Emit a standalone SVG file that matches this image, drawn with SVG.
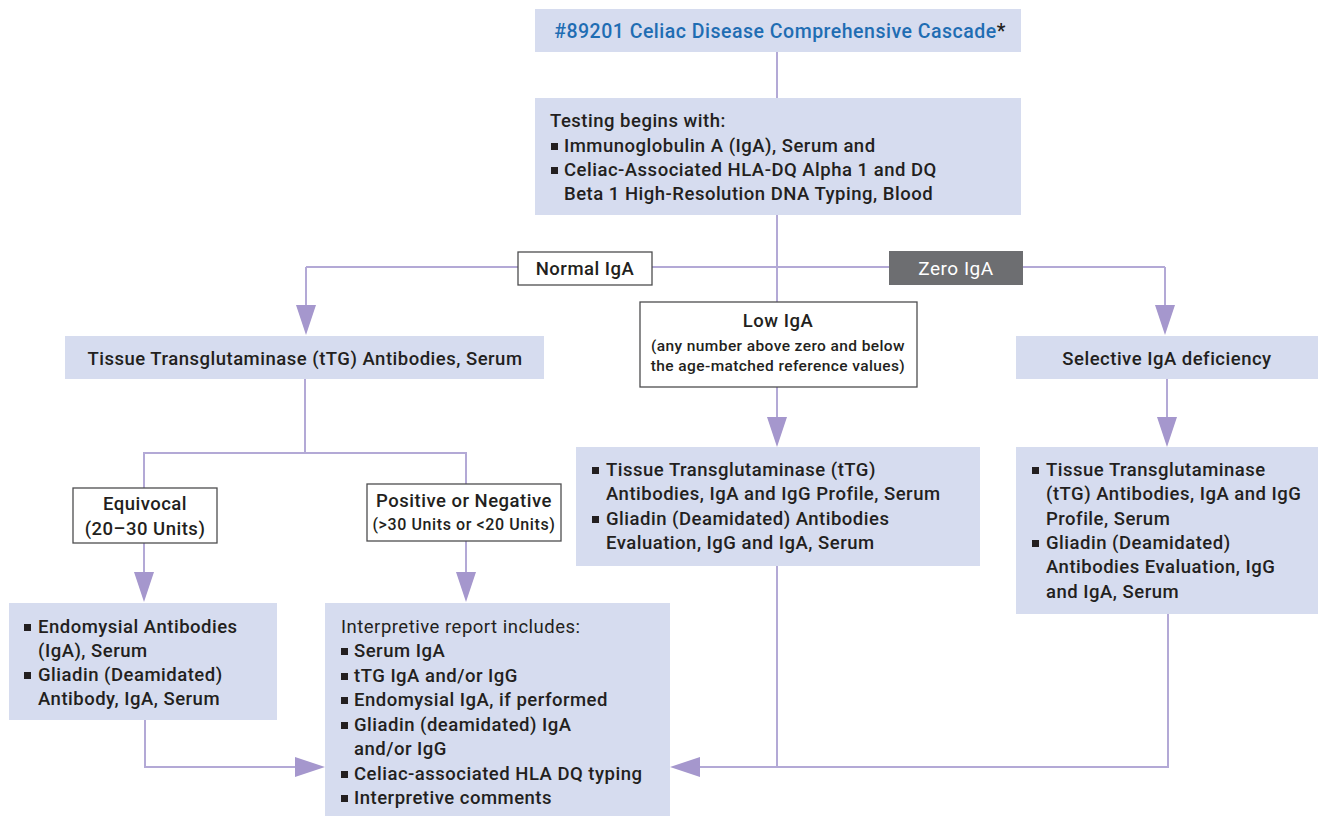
<svg xmlns="http://www.w3.org/2000/svg" width="1322" height="816" viewBox="0 0 1322 816">
<style>
.box{fill:#d6dcef}
.wbox{fill:#ffffff;stroke:#4d4d4f;stroke-width:1.3}
.dbox{fill:#6d6e71}
text{font-family:Roboto,"Liberation Sans",sans-serif;font-weight:500;font-size:18.5px;letter-spacing:0.5px;fill:#231f20}
.sm{font-size:15.5px;letter-spacing:0.4px}
.sm2{font-size:16px;letter-spacing:0.6px}
.ttl{fill:#1f6db3;font-size:19.5px}
.wt{fill:#ffffff;font-size:19px;font-weight:400}
.lt{font-weight:400}
.c{text-anchor:middle}
.b{fill:#231f20}
.ln{fill:none;stroke:#b3a9d6;stroke-width:2}
</style>
<defs>
<marker id="ah" viewBox="0 0 30 20" refX="1" refY="10" markerWidth="30" markerHeight="20" markerUnits="userSpaceOnUse" orient="auto">
<path d="M0,0 L30,10 L0,20 Z" fill="#a597cd"/>
</marker>
<rect id="bul" width="7" height="7" class="b"/>
</defs>
<g id="connectors">
<path class="ln" d="M777,52 V98"/>
<path class="ln" d="M777,215 V302"/>
<path class="ln" d="M306,267 H1165"/>
<path class="ln" d="M306,267 V306" marker-end="url(#ah)"/>
<path class="ln" d="M1165,267 V306" marker-end="url(#ah)"/>
<path class="ln" d="M777,387 V418" marker-end="url(#ah)"/>
<path class="ln" d="M1167,379 V418" marker-end="url(#ah)"/>
<path class="ln" d="M305,379 V453"/>
<path class="ln" d="M144,488 V453 H466 V484"/>
<path class="ln" d="M144,543 V573" marker-end="url(#ah)"/>
<path class="ln" d="M466,541 V573" marker-end="url(#ah)"/>
<path class="ln" d="M145,720 V767 H296" marker-end="url(#ah)"/>
<path class="ln" d="M777,565 V767"/>
<path class="ln" d="M1168,614 V767 H699" marker-end="url(#ah)"/>
</g>
<g id="n-title">
<rect class="box" x="535" y="9" width="486" height="43"/>
<text class="c ttl" x="780" y="38">#89201 Celiac Disease Comprehensive Cascade<tspan fill="#231f20">*</tspan></text>
</g>
<g id="n-testing">
<rect class="box" x="535" y="98" width="486" height="117"/>
<text x="550" y="127">Testing begins with:</text>
<use href="#bul" x="551" y="143"/>
<text x="564" y="152">Immunoglobulin A (IgA), Serum and</text>
<use href="#bul" x="551" y="167"/>
<text x="564" y="176">Celiac-Associated HLA-DQ Alpha 1 and DQ</text>
<text x="564" y="200">Beta 1 High-Resolution DNA Typing, Blood</text>
</g>
<g id="n-normal">
<rect class="wbox" x="518" y="252" width="134" height="33"/>
<text class="c" x="585" y="275">Normal IgA</text>
</g>
<g id="n-zero">
<rect class="dbox" x="889" y="251" width="134" height="34"/>
<text class="c wt" x="956" y="275">Zero IgA</text>
</g>
<g id="n-low">
<rect class="wbox" x="640" y="302" width="277" height="85"/>
<text class="c" x="778" y="327">Low IgA</text>
<text class="c sm" x="778" y="351">(any number above zero and below</text>
<text class="c sm" x="778" y="371">the age-matched reference values)</text>
</g>
<g id="n-ttg">
<rect class="box" x="65" y="336" width="479" height="43"/>
<text class="c" x="305" y="365">Tissue Transglutaminase (tTG) Antibodies, Serum</text>
</g>
<g id="n-selective">
<rect class="box" x="1016" y="336" width="302" height="43"/>
<text class="c" x="1167" y="365">Selective IgA deficiency</text>
</g>
<g id="n-equivocal">
<rect class="wbox" x="73" y="488" width="144" height="55"/>
<text class="c" x="145" y="510">Equivocal</text>
<text class="c" x="145" y="535">(20–30 Units)</text>
</g>
<g id="n-posneg">
<rect class="wbox" x="367" y="484" width="194" height="57"/>
<text class="c" x="464" y="507">Positive or Negative</text>
<text class="c sm2" x="464" y="530">(&gt;30 Units or &lt;20 Units)</text>
</g>
<g id="n-lowresult">
<rect class="box" x="576" y="447" width="404" height="119"/>
<use href="#bul" x="592" y="467"/>
<text x="606" y="476">Tissue Transglutaminase (tTG)</text>
<text x="606" y="500">Antibodies, IgA and IgG Profile, Serum</text>
<use href="#bul" x="592" y="516"/>
<text x="606" y="525">Gliadin (Deamidated) Antibodies</text>
<text x="606" y="549">Evaluation, IgG and IgA, Serum</text>
</g>
<g id="n-selresult">
<rect class="box" x="1016" y="447" width="302" height="167"/>
<use href="#bul" x="1032" y="467"/>
<text x="1046" y="476">Tissue Transglutaminase</text>
<text x="1046" y="500">(tTG) Antibodies, IgA and IgG</text>
<text x="1046" y="525">Profile, Serum</text>
<use href="#bul" x="1032" y="540"/>
<text x="1046" y="549">Gliadin (Deamidated)</text>
<text x="1046" y="573">Antibodies Evaluation, IgG</text>
<text x="1046" y="598">and IgA, Serum</text>
</g>
<g id="n-endomysial">
<rect class="box" x="9" y="603" width="268" height="117"/>
<use href="#bul" x="24" y="624"/>
<text x="38" y="633">Endomysial Antibodies</text>
<text x="38" y="657">(IgA), Serum</text>
<use href="#bul" x="24" y="672"/>
<text x="38" y="681">Gliadin (Deamidated)</text>
<text x="38" y="705">Antibody, IgA, Serum</text>
</g>
<g id="n-report">
<rect class="box" x="325" y="603" width="345" height="213"/>
<text class="lt" x="341" y="633">Interpretive report includes:</text>
<use href="#bul" x="341" y="648"/>
<text x="354" y="657">Serum IgA</text>
<use href="#bul" x="341" y="673"/>
<text x="354" y="682">tTG IgA and/or IgG</text>
<use href="#bul" x="341" y="697"/>
<text x="354" y="706">Endomysial IgA, if performed</text>
<use href="#bul" x="341" y="722"/>
<text x="354" y="731">Gliadin (deamidated) IgA</text>
<text x="354" y="755">and/or IgG</text>
<use href="#bul" x="341" y="771"/>
<text x="354" y="780">Celiac-associated HLA DQ typing</text>
<use href="#bul" x="341" y="795"/>
<text x="354" y="804">Interpretive comments</text>
</g>
</svg>
